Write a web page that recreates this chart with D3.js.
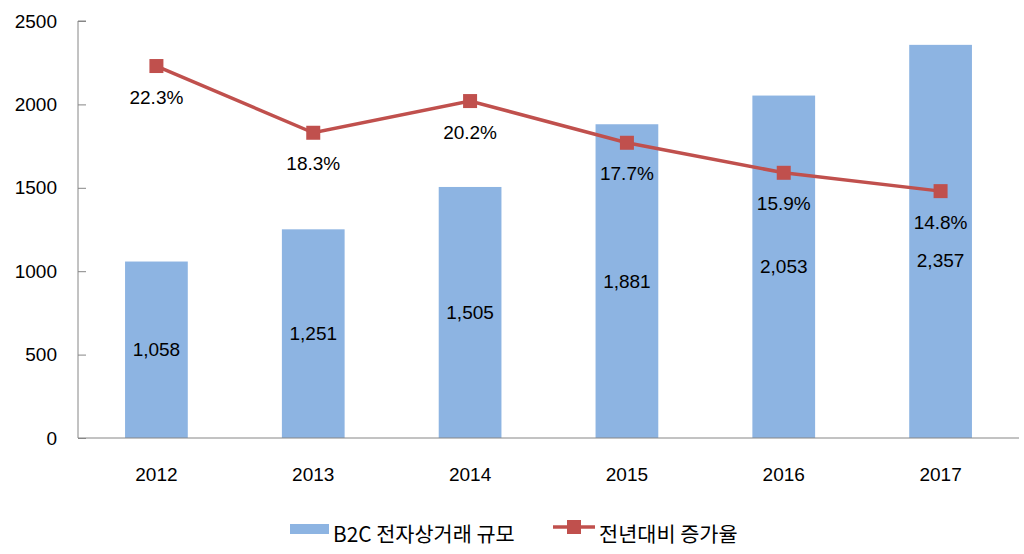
<!DOCTYPE html>
<html><head><meta charset="utf-8">
<script src="https://cdn.jsdelivr.net/npm/d3@7"></script>
<style>body{margin:0;background:#fff}svg{display:block}</style>
</head><body>
<script>
const years = ["2012","2013","2014","2015","2016","2017"];
const sales = [1058, 1251, 1505, 1881, 2053, 2357];
const growth = [22.3, 18.3, 20.2, 17.7, 15.9, 14.8];
const leftTicks = [0, 500, 1000, 1500, 2000, 2500];
const barName = "B2C 전자상거래 규모";
const lineName = "전년대비 증가율";

const W = 1024, H = 554;
const m = {l: 78, r: 5, t: 21, b: 116};
const font = "'Liberation Sans', Arial, sans-serif";
const kfont = "'Noto Sans CJK KR', sans-serif";
const barColor = "#8DB4E2", lineColor = "#C0504D", textColor = "#000";
const fs = 19;

const svg = d3.select("body").append("svg").attr("width", W).attr("height", H);
const x = d3.scaleBand().domain(years).range([m.l, W - m.r]).paddingInner(0.6).paddingOuter(0.3);
const y = d3.scaleLinear().domain([0, 2500]).range([H - m.b, m.t]);
const y2 = d3.scaleLinear().domain([0, 25]).range([H - m.b, m.t]);

// bars
svg.append("g").selectAll("rect").data(sales).join("rect")
  .attr("x", (d, i) => x(years[i])).attr("width", x.bandwidth())
  .attr("y", d => y(d)).attr("height", d => y(0) - y(d))
  .attr("fill", barColor);

// axes
const ya = svg.append("g").attr("transform", `translate(${m.l},0)`)
  .call(d3.axisRight(y).tickValues(leftTicks).tickSize(8).tickFormat(""));
ya.select(".domain").attr("stroke", "#868686").attr("d", `M8,${m.t}H0V${H - m.b}`);
ya.selectAll(".tick line").attr("stroke", "#868686");
svg.append("g").selectAll("text").data(leftTicks).join("text")
  .attr("x", 57).attr("y", d => y(d)).attr("dy", "0.35em").attr("text-anchor", "end")
  .attr("font-family", font).attr("font-size", fs).attr("fill", textColor).text(d => d);

const xa = svg.append("g").attr("transform", `translate(0,${H - m.b})`)
  .call(d3.axisBottom(x).tickSize(0).tickPadding(30));
xa.select(".domain").attr("stroke", "#868686").attr("d", `M${m.l},0H${W - m.r}`);
xa.selectAll("text").attr("font-family", font).attr("font-size", fs).attr("fill", textColor);

// line
const cx = i => x(years[i]) + x.bandwidth() / 2;
svg.append("path").datum(growth)
  .attr("d", d3.line().x((d, i) => cx(i)).y(d => y2(d)))
  .attr("fill", "none").attr("stroke", lineColor).attr("stroke-width", 3.5);
svg.append("g").selectAll("rect").data(growth).join("rect")
  .attr("x", (d, i) => cx(i) - 7).attr("y", d => y2(d) - 7)
  .attr("width", 14).attr("height", 14).attr("fill", lineColor);

// labels
const lineLabY = growth.map(d => y2(d) + 31);
svg.append("g").selectAll("text").data(growth).join("text")
  .attr("x", (d, i) => cx(i)).attr("y", (d, i) => lineLabY[i]).attr("dy", "0.35em")
  .attr("text-anchor", "middle").attr("font-family", font).attr("font-size", fs)
  .attr("fill", textColor).text(d => d.toFixed(1) + "%");
svg.append("g").selectAll("text").data(sales).join("text")
  .attr("x", (d, i) => cx(i))
  .attr("y", (d, i) => Math.max((y(d) + y(0)) / 2, lineLabY[i] + 38)).attr("dy", "0.35em")
  .attr("text-anchor", "middle").attr("font-family", font).attr("font-size", fs)
  .attr("fill", textColor).text(d => d3.format(",")(d));

// legend
const lg = svg.append("g");
lg.append("rect").attr("x", 290).attr("y", 524).attr("width", 39).attr("height", 10).attr("fill", barColor);
lg.append("text").attr("x", 333).attr("y", 535).attr("dy", "0.35em")
  .attr("font-family", kfont).attr("font-size", 20.8).attr("fill", textColor).text(barName);
lg.append("line").attr("x1", 553).attr("x2", 595).attr("y1", 527).attr("y2", 527)
  .attr("stroke", lineColor).attr("stroke-width", 3.5);
lg.append("rect").attr("x", 567).attr("y", 520).attr("width", 14).attr("height", 14).attr("fill", lineColor);
lg.append("text").attr("x", 599).attr("y", 535).attr("dy", "0.35em")
  .attr("font-family", kfont).attr("font-size", 20.8).attr("fill", textColor).text(lineName);
</script>
</body></html>
